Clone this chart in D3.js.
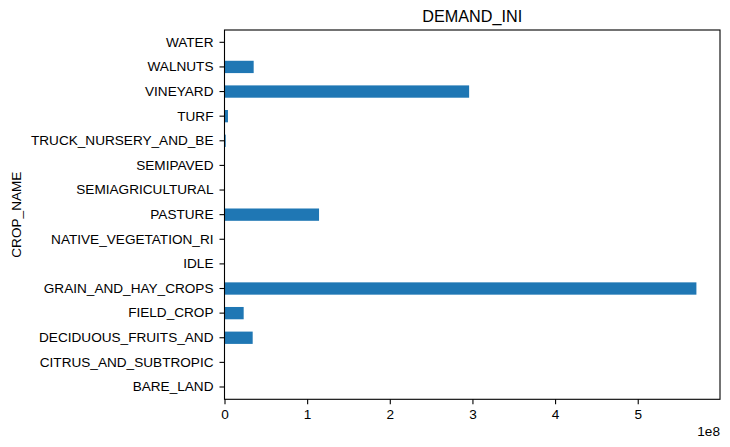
<!DOCTYPE html>
<html>
<head>
<meta charset="utf-8">
<script src="https://cdn.jsdelivr.net/npm/d3@7"></script>
<style>
  html, body { margin: 0; padding: 0; background: #fff; }
  svg { display: block; }
  text { font-family: "Liberation Sans", Arial, sans-serif; fill: #000; }
</style>
</head>
<body>
<svg id="chart" width="730" height="447"></svg>
<script>
const categories = ["BARE_LAND", "CITRUS_AND_SUBTROPIC", "DECIDUOUS_FRUITS_AND", "FIELD_CROP",
  "GRAIN_AND_HAY_CROPS", "IDLE", "NATIVE_VEGETATION_RI", "PASTURE", "SEMIAGRICULTURAL",
  "SEMIPAVED", "TRUCK_NURSERY_AND_BE", "TURF", "VINEYARD", "WALNUTS", "WATER"];
const demandIni = [0, 0, 3.41e7, 2.32e7, 5.71e8, 0, 0, 1.144e8, 0, 0, 1.5e6, 4.2e6, 2.96e8, 3.53e7, 0];
const xTicks = [0, 1e8, 2e8, 3e8, 4e8, 5e8];
const title = "DEMAND_INI";
const yLabel = "CROP_NAME";
const exponentLabel = "1e8";

(function () {
const svg = d3.select("#chart");
const mLeft = 224.5, mRight = 720, mTop = 30, mBottom = 399.3;
const fs = 13.6;

const x = d3.scaleLinear()
  .domain([0, d3.max(demandIni) * 1.05])
  .range([mLeft, mRight]);

const y = d3.scaleBand()
  .domain(categories.slice().reverse())
  .range([mTop, mBottom])
  .paddingInner(0.5)
  .paddingOuter(0.25);

// bars
svg.append("g").selectAll("rect")
  .data(categories.map((c, i) => ({ c, v: demandIni[i] })))
  .join("rect")
  .attr("x", x(0))
  .attr("y", d => y(d.c))
  .attr("width", d => x(d.v) - x(0))
  .attr("height", y.bandwidth())
  .attr("fill", "#1f77b4");

// x axis
const xAxis = svg.append("g")
  .attr("transform", `translate(0,${mBottom})`)
  .call(d3.axisBottom(x).tickValues(xTicks).tickFormat(d => d3.format("d")(d / 1e8)).tickSize(5).tickPadding(5));
xAxis.select(".domain").remove();
xAxis.selectAll("text").attr("font-size", fs).attr("font-family", "Liberation Sans, Arial, sans-serif");
xAxis.selectAll("line").attr("stroke", "#000").attr("stroke-width", 1.1);

// y axis
const yAxis = svg.append("g")
  .attr("transform", `translate(${mLeft},0)`)
  .call(d3.axisLeft(y).tickSize(5).tickPadding(6));
yAxis.select(".domain").remove();
yAxis.selectAll("text").attr("font-size", fs).attr("font-family", "Liberation Sans, Arial, sans-serif");
yAxis.selectAll("line").attr("stroke", "#000").attr("stroke-width", 1.1);

// frame
svg.append("rect")
  .attr("x", mLeft).attr("y", mTop)
  .attr("width", mRight - mLeft).attr("height", mBottom - mTop)
  .attr("fill", "none").attr("stroke", "#000").attr("stroke-width", 1.1);

// title
svg.append("text")
  .attr("x", (mLeft + mRight) / 2).attr("y", 22)
  .attr("text-anchor", "middle")
  .attr("font-size", 16.2)
  .text(title);

// y label
svg.append("text")
  .attr("transform", `translate(21,${(mTop + mBottom) / 2}) rotate(-90)`)
  .attr("text-anchor", "middle")
  .attr("font-size", fs)
  .text(yLabel);

// offset label
svg.append("text")
  .attr("x", mRight).attr("y", 436)
  .attr("text-anchor", "end")
  .attr("font-size", fs)
  .text(exponentLabel);
})();
</script>
</body>
</html>
